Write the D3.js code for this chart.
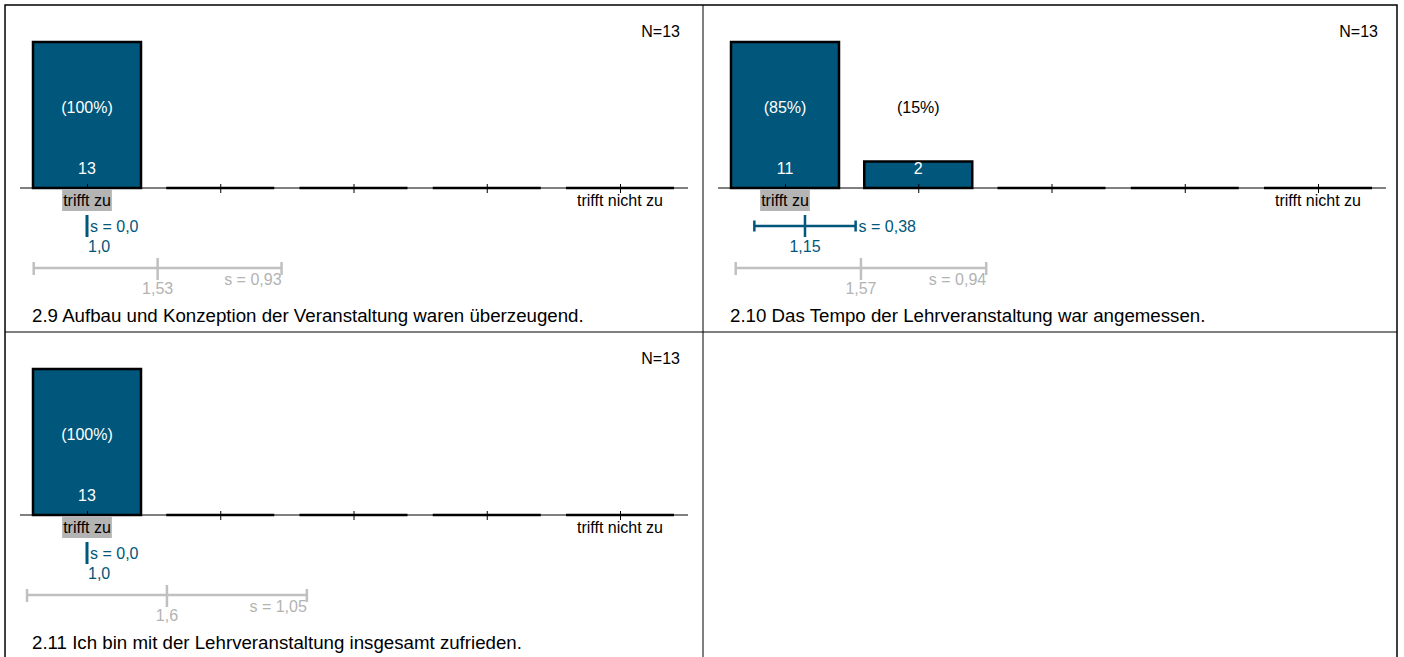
<!DOCTYPE html>
<html>
<head>
<meta charset="utf-8">
<script src="https://cdn.jsdelivr.net/npm/d3@7"></script>
<style>
  body { margin: 0; background: #fff; }
  svg { display: block; font-family: Arial, "Liberation Sans", sans-serif; }
</style>
</head>
<body>
<svg id="chart" width="1404" height="657"></svg>
<script>
// chart data
var questions = [
  "2.9 Aufbau und Konzeption der Veranstaltung waren überzeugend.",
  "2.10 Das Tempo der Lehrveranstaltung war angemessen.",
  "2.11 Ich bin mit der Lehrveranstaltung insgesamt zufrieden."
];
var scaleLabels = ["trifft zu", "trifft nicht zu"];
var categories = [1, 2, 3, 4, 5];
var counts = [[13, 0, 0, 0, 0], [11, 2, 0, 0, 0], [13, 0, 0, 0, 0]];
var nValues = [13, 13, 13];
var medianCats = [1, 1, 1];
var means = [1.0, 1.15, 1.0];
var sds = [0.0, 0.38, 0.0];
var meanLabels = ["1,0", "1,15", "1,0"];
var sdLabels = ["s = 0,0", "s = 0,38", "s = 0,0"];
var refMeans = [1.53, 1.57, 1.6];
var refSds = [0.93, 0.94, 1.05];
var refMeanLabels = ["1,53", "1,57", "1,6"];
var refSdLabels = ["s = 0,93", "s = 0,94", "s = 1,05"];

var padLeft = 5, padTop = 5, cellW = 698, cellH = 327;
var blue = '#00567b', grey = '#c0c0c0';
var barW = 108;

var svg = d3.select('#chart');

// frame grid
var grid = svg.append('g').attr('stroke', '#000').attr('fill', 'none');
grid.append('rect')
    .attr('x', padLeft).attr('y', padTop)
    .attr('width', cellW * 2 - 4).attr('height', cellH * 2 + 10)
    .attr('stroke-width', 1.5);
grid.append('line').attr('x1', padLeft - 0.5).attr('x2', padLeft - 0.5)
    .attr('y1', padTop).attr('y2', 657).attr('stroke', '#444');
grid.append('line').attr('x1', padLeft + cellW).attr('x2', padLeft + cellW)
    .attr('y1', padTop).attr('y2', 657);
grid.append('line').attr('x1', padLeft).attr('x2', padLeft + cellW * 2 - 4)
    .attr('y1', padTop + cellH).attr('y2', padTop + cellH);

var x = d3.scaleLinear().domain([1, 5]).range([82, 615]);

questions.forEach(function(q, i) {
  var g = svg.append('g')
      .attr('transform', `translate(${padLeft + (i % 2) * cellW}, ${padTop + Math.floor(i / 2) * cellH})`);

  var y = d3.scaleLinear()
      .domain([0, d3.max(counts[i])])
      .range([183, 37]);

  var cats = categories.map(function(c, j) { return {cat: c, count: counts[i][j]}; });

  g.selectAll('.bar')
      .data(cats)
    .enter().append('path')
      .attr('class', 'bar')
      .attr('d', function(d) {
        return `M${x(d.cat) - barW / 2},${y(0)}V${y(d.count)}H${x(d.cat) + barW / 2}V${y(0)}Z`;
      })
      .attr('fill', blue)
      .attr('stroke', '#000')
      .attr('stroke-width', 2.5);

  g.append('line')
      .attr('x1', 15).attr('x2', 683)
      .attr('y1', y(0)).attr('y2', y(0))
      .attr('stroke', '#000');

  var axis = d3.axisBottom(x).tickValues(categories).tickSize(9).tickFormat('');
  g.append('g')
      .attr('transform', `translate(0, ${y(0) - 4})`)
      .call(axis)
      .call(function(a) { a.select('.domain').remove(); });

  // percent + count labels
  var filled = cats.filter(function(d) { return d.count > 0; });
  g.selectAll('.pct')
      .data(filled)
    .enter().append('text')
      .attr('x', function(d) { return x(d.cat); })
      .attr('y', 108)
      .attr('text-anchor', 'middle')
      .attr('font-size', 16)
      .attr('fill', function(d) { return y(d.count) < 92 ? '#fff' : '#000'; })
      .text(function(d) { return '(' + Math.round(d.count / nValues[i] * 100) + '%)'; });
  g.selectAll('.cnt')
      .data(filled)
    .enter().append('text')
      .attr('x', function(d) { return x(d.cat); })
      .attr('y', 169)
      .attr('text-anchor', 'middle')
      .attr('font-size', 16)
      .attr('fill', '#fff')
      .text(function(d) { return d.count; });

  // scale end labels
  [[1, scaleLabels[0]], [5, scaleLabels[1]]].forEach(function(l) {
    var t = g.append('text')
        .attr('x', x(l[0])).attr('y', 201)
        .attr('text-anchor', 'middle')
        .attr('font-size', 16)
        .text(l[1]);
    if (l[0] === medianCats[i]) {
      var b = t.node().getBBox();
      g.insert('rect', function() { return t.node(); })
          .attr('x', b.x - 1).attr('y', 184)
          .attr('width', b.width + 2).attr('height', 22)
          .attr('fill', '#b4b4b4');
    }
  });

  g.append('text')
      .attr('x', 675).attr('y', 32)
      .attr('text-anchor', 'end')
      .attr('font-size', 16)
      .text('N=' + nValues[i]);

  // own mean and sd
  var m = means[i], s = sds[i];
  var by = 221;
  var eb = g.append('g').attr('stroke', blue).attr('stroke-width', 2.5);
  eb.append('line').attr('x1', x(m - s)).attr('x2', x(m + s)).attr('y1', by).attr('y2', by);
  eb.append('line').attr('x1', x(m)).attr('x2', x(m)).attr('y1', by - 11).attr('y2', by + 11)
      .attr('stroke-width', s === 0 ? 3 : 2.5);
  if (s > 0) {
    [m - s, m + s].forEach(function(v) {
      eb.append('line').attr('x1', x(v)).attr('x2', x(v)).attr('y1', by - 5.5).attr('y2', by + 5.5);
    });
  }
  g.append('text')
      .attr('x', x(m + s) + 3).attr('y', 227)
      .attr('font-size', 16).attr('fill', blue)
      .text(sdLabels[i]);
  g.append('text')
      .attr('x', s === 0 ? x(m) + 1 : x(m)).attr('y', 247)
      .attr('text-anchor', s === 0 ? 'start' : 'middle')
      .attr('font-size', 16).attr('fill', blue)
      .text(meanLabels[i]);

  // comparison mean and sd
  var rm = refMeans[i], rs = refSds[i];
  var ry = 263;
  var rb = g.append('g').attr('stroke', grey).attr('stroke-width', 2.5);
  rb.append('line').attr('x1', x(rm - rs)).attr('x2', x(rm + rs)).attr('y1', ry).attr('y2', ry);
  rb.append('line').attr('x1', x(rm)).attr('x2', x(rm)).attr('y1', ry - 10).attr('y2', ry + 12);
  [rm - rs, rm + rs].forEach(function(v) {
    rb.append('line').attr('x1', x(v)).attr('x2', x(v)).attr('y1', ry - 6).attr('y2', ry + 7);
  });
  g.append('text')
      .attr('x', x(rm)).attr('y', 289)
      .attr('text-anchor', 'middle')
      .attr('font-size', 16).attr('fill', '#b3b3b3')
      .text(refMeanLabels[i]);
  g.append('text')
      .attr('x', x(rm + rs)).attr('y', 280)
      .attr('text-anchor', 'end')
      .attr('font-size', 16).attr('fill', '#b3b3b3')
      .text(refSdLabels[i]);

  g.append('text')
      .attr('x', 27).attr('y', 317)
      .attr('font-size', 18.7)
      .text(q);
});
</script>
</body>
</html>
